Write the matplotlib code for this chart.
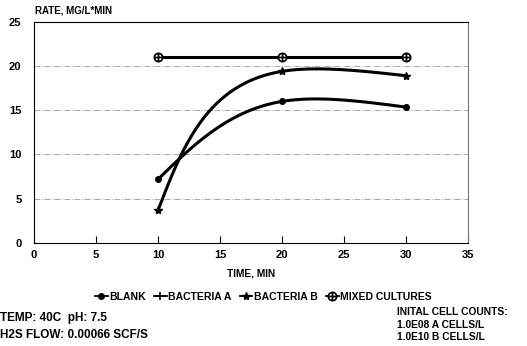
import numpy as np
import matplotlib
matplotlib.use("Agg")
import matplotlib.pyplot as plt
from matplotlib.path import Path

# data
time_min = [10, 20, 30]
blank = [7.2, 16.0, 15.35]
bacteria_a = []          # not visible on the chart
bacteria_b = [3.7, 19.4, 18.9]
mixed = [21.0, 21.0, 21.0]

x_ticks = [0, 5, 10, 15, 20, 25, 30, 35]
y_ticks = [0, 5, 10, 15, 20, 25]


def nat_spline(t, v, ts):
    # natural cubic spline v(t) evaluated at ts
    k = len(t)
    h = np.diff(t)
    A = np.zeros((k, k))
    r = np.zeros(k)
    A[0, 0] = A[-1, -1] = 1
    for i in range(1, k - 1):
        A[i, i - 1] = h[i - 1]
        A[i, i] = 2 * (h[i - 1] + h[i])
        A[i, i + 1] = h[i]
        r[i] = 6 * ((v[i + 1] - v[i]) / h[i] - (v[i] - v[i - 1]) / h[i - 1])
    M = np.linalg.solve(A, r)
    out = np.empty_like(ts)
    for j, tv in enumerate(ts):
        i = min(max(np.searchsorted(t, tv, side="right") - 1, 0), k - 2)
        a = t[i + 1] - tv
        b = tv - t[i]
        out[j] = (M[i] * a**3 + M[i + 1] * b**3) / (6 * h[i]) \
            + (v[i] / h[i] - M[i] * h[i] / 6) * a \
            + (v[i + 1] / h[i] - M[i + 1] * h[i] / 6) * b
    return out


def smooth(x, y, k=1.25, n=300):
    # parametric (chord length) spline, only for drawing the curve
    x = np.asarray(x, float)
    y = np.asarray(y, float)
    d = np.hypot(np.diff(x), k * np.diff(y))
    t = np.concatenate([[0], np.cumsum(d)])
    ts = np.linspace(0, t[-1], n)
    return nat_spline(t, x, ts), nat_spline(t, y, ts)


# circle with a cross inside
circ = Path.unit_circle()
cross = Path([(-1, 0), (1, 0), (0, -1), (0, 1)],
             [Path.MOVETO, Path.LINETO, Path.MOVETO, Path.LINETO])
oplus = Path.make_compound_path(circ, cross)

plt.rcParams['font.family'] = ['Liberation Sans', 'DejaVu Sans']
plt.rcParams['font.weight'] = 'bold'

fig = plt.figure(figsize=(5.27, 3.46), dpi=100)
ax = fig.add_axes([0.0645, 0.298, 0.824, 0.639])

lw = 2.2
series = [
    ("BLANK", blank, dict(marker='o', ms=4)),
    ("BACTERIA A", bacteria_a, dict(marker='+', ms=6, mew=1.2)),
    ("BACTERIA B", bacteria_b, dict(marker='*', ms=6)),
    ("MIXED CULTURES", mixed, dict(marker=oplus, ms=6, mfc='white', mew=1.2)),
]
handles = []
for name, vals, mk in series:
    if len(vals) > 0:
        xs, ys = smooth(time_min[:len(vals)], vals)
        ax.plot(xs, ys, color='black', lw=lw, solid_capstyle='round')
        ax.plot(time_min[:len(vals)], vals, ls='none', color='black', **mk)
    h, = ax.plot([], [], color='black', lw=1.3, **mk)
    h.set_label(name)
    handles.append(h)

ax.set_xlim(0, 35)
ax.set_ylim(0, 25)
ax.set_xticks(x_ticks)
ax.set_yticks(y_ticks)
ax.tick_params(axis='x', direction='in', length=5, width=0.8, pad=5, labelsize=8)
ax.tick_params(axis='y', length=0, pad=9, labelsize=8)
for y in y_ticks[1:-1]:
    ax.axhline(y, color='#999999', lw=0.6, ls=(0, (7, 2, 1, 2)), zorder=0)

for s in ['left', 'bottom', 'top']:
    ax.spines[s].set_linewidth(0.8)
ax.spines['right'].set_color('#777777')

ax.set_xlabel("TIME, MIN", fontsize=7.3, fontweight='bold', labelpad=6)
fig.text(0.066, 0.97, "RATE, MG/L*MIN", fontsize=7, fontweight='bold',
         ha='left', va='center')

fig.legend(handles=handles, loc='center', bbox_to_anchor=(0.5, 0.142),
           ncol=4, frameon=False, fontsize=7.5, handlelength=1.2,
           handletextpad=0.15, columnspacing=0.8, numpoints=1)

fig.text(0.0, 0.081, "TEMP: 40C  pH: 7.5", fontsize=8.5, fontweight='bold', va='center')
fig.text(0.0, 0.032, "H2S FLOW: 0.00066 SCF/S", fontsize=8.5, fontweight='bold', va='center')
fig.text(0.753, 0.098, "INITAL CELL COUNTS:", fontsize=7.4, fontweight='bold', va='center')
fig.text(0.753, 0.061, "1.0E08 A CELLS/L", fontsize=7.4, fontweight='bold', va='center')
fig.text(0.753, 0.026, "1.0E10 B CELLS/L", fontsize=7.4, fontweight='bold', va='center')

fig.savefig("out.png", dpi=100)
